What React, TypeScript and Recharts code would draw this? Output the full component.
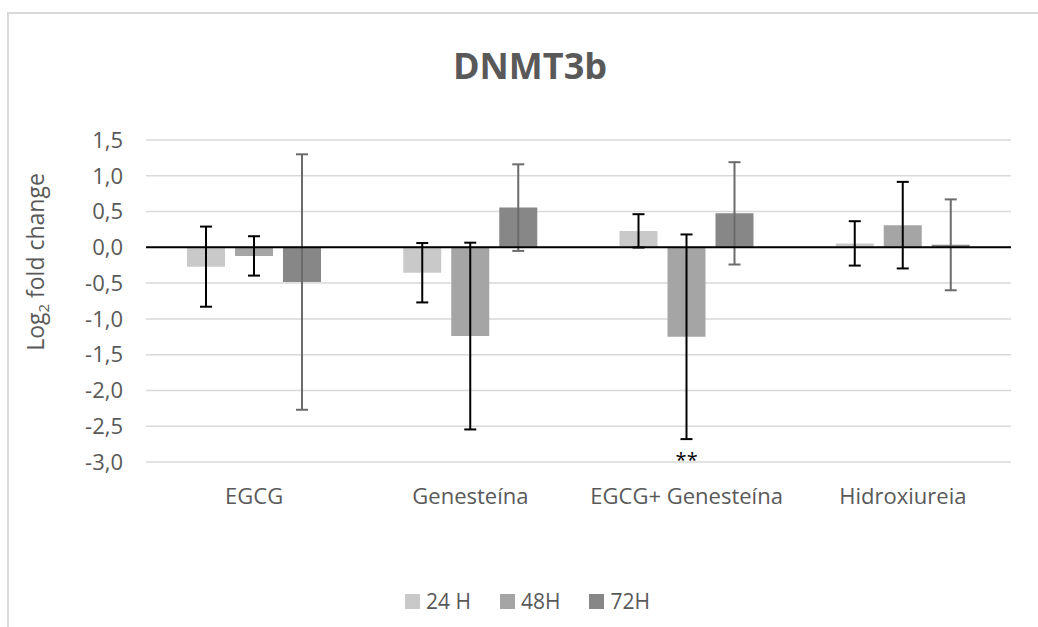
import React from 'react';
import {
  BarChart,
  Bar,
  XAxis,
  YAxis,
  CartesianGrid,
  ErrorBar,
  ReferenceLine,
  ReferenceDot,
  Legend,
} from 'recharts';

const title = 'DNMT3b';
const categories = ['EGCG', 'Genesteína', 'EGCG+ Genesteína', 'Hidroxiureia'];
const seriesNames = ['24 H', '48H', '72H'];
const values24 = [-0.27, -0.355, 0.23, 0.055];
const errors24 = [0.56, 0.415, 0.233, 0.31];
const values48 = [-0.12, -1.24, -1.25, 0.31];
const errors48 = [0.275, 1.305, 1.43, 0.605];
const values72 = [-0.485, 0.555, 0.475, 0.035];
const errors72 = [1.785, 0.605, 0.715, 0.635];
const significance48 = ['', '', '**', ''];
const yTicks = [1.5, 1.0, 0.5, 0, -0.5, -1.0, -1.5, -2.0, -2.5, -3.0];

const colors = ['#c9c9c9', '#a5a5a5', '#878787'];
const textColor = '#595959';
const FONT = '"Open Sans", sans-serif';

const data = categories.map((name, i) => ({
  name,
  v24: values24[i],
  e24: errors24[i],
  v48: values48[i],
  e48: errors48[i],
  v72: values72[i],
  e72: errors72[i],
}));

const fmt = (v: number) => {
  const s = Math.abs(v).toFixed(1).replace('.', ',');
  return v < -1e-9 ? '-' + s : s;
};

const renderLegend = (props: any) => {
  const payload = props.payload || [];
  return (
    <div style={{ display: 'flex', alignItems: 'center', fontSize: 21, color: textColor, fontFamily: FONT, whiteSpace: 'nowrap' }}>
      {payload.map((p: any, i: number) => (
        <div key={i} style={{ display: 'flex', alignItems: 'center', marginRight: 29 }}>
          <span style={{ width: 15, height: 15, background: p.color, marginRight: 6, display: 'inline-block' }} />
          <span>{p.value}</span>
        </div>
      ))}
    </div>
  );
};

const renderYLabel = (props: any) => {
  const vb = props.viewBox || {};
  const cx = 44;
  const cy = (vb.y ?? 140) + (vb.height ?? 322) / 2 - 39;
  return (
    <text
      x={cx}
      y={cy}
      transform={`rotate(-90, ${cx}, ${cy})`}
      textAnchor="middle"
      fill={textColor}
      fontSize={23}
      fontFamily={FONT}
    >
      <tspan>Log</tspan>
      <tspan fontSize={15} dy={5}>2</tspan>
      <tspan dy={-5}> fold change</tspan>
    </text>
  );
};

const sigShape = (label: string) => (props: any) => (
  <text
    x={props.cx}
    y={props.cy + 28}
    textAnchor="middle"
    fill="#000"
    fontSize={20}
    fontFamily={FONT}
  >
    {label}
  </text>
);

export default function App() {
  return (
    <div
      style={{
        position: 'fixed',
        left: 0,
        top: 0,
        width: 1038,
        height: 627,
        background: '#fff',
        overflow: 'hidden',
        fontFamily: FONT,
      }}
    >
      <div
        style={{
          position: 'absolute',
          left: 7,
          top: 12,
          width: 1100,
          height: 700,
          border: '2px solid #d9d9d9',
        }}
      />
      <div style={{ position: 'absolute', left: 0, top: 0 }}>
        <BarChart
          width={1038}
          height={627}
          data={data}
          margin={{ top: 140, right: 27, left: 0, bottom: 105 }}
          barSize={38}
          barGap={10}
        >
          <CartesianGrid vertical={false} stroke="#d9d9d9" strokeWidth={1.5} />
          <XAxis
            dataKey="name"
            axisLine={false}
            tickLine={false}
            tickSize={0}
            tickMargin={26}
            height={60}
            interval={0}
            tick={{ fill: textColor, fontSize: 22, fontFamily: FONT }}
          />
          <YAxis
            width={146}
            domain={[-3, 1.5]}
            ticks={yTicks}
            interval={0}
            axisLine={false}
            tickLine={false}
            tickSize={0}
            tickMargin={23}
            tickFormatter={fmt}
            tick={{ fill: textColor, fontSize: 22, fontFamily: FONT }}
            label={renderYLabel}
          />
          <Bar dataKey="v24" name={seriesNames[0]} fill={colors[0]} isAnimationActive={false}>
            <ErrorBar dataKey="e24" width={6} strokeWidth={2} stroke="#000" direction="y" />
          </Bar>
          <Bar dataKey="v48" name={seriesNames[1]} fill={colors[1]} isAnimationActive={false}>
            <ErrorBar dataKey="e48" width={6} strokeWidth={2} stroke="#000" direction="y" />
          </Bar>
          <Bar dataKey="v72" name={seriesNames[2]} fill={colors[2]} isAnimationActive={false}>
            <ErrorBar dataKey="e72" width={6} strokeWidth={2} stroke="#6b6b6b" direction="y" />
          </Bar>
          <ReferenceLine y={0} stroke="#000" strokeWidth={2} />
          {categories.map((c, i) =>
            significance48[i] ? (
              <ReferenceDot
                key={c}
                x={c}
                y={values48[i] - errors48[i]}
                r={0}
                shape={sigShape(significance48[i])}
              />
            ) : null
          )}
          <Legend
            layout="horizontal"
            verticalAlign="middle"
            align="center"
            wrapperStyle={{ left: 405, top: 587, width: 'auto' }}
            content={renderLegend}
          />
        </BarChart>
      </div>
      <svg
        width={1038}
        height={627}
        style={{ position: 'absolute', left: 0, top: 0, pointerEvents: 'none' }}
      >
        <text x={530} y={79} textAnchor="middle" fill={textColor} fontSize={36} fontWeight="bold" fontFamily={FONT}>
          {title}
        </text>
      </svg>
    </div>
  );
}
